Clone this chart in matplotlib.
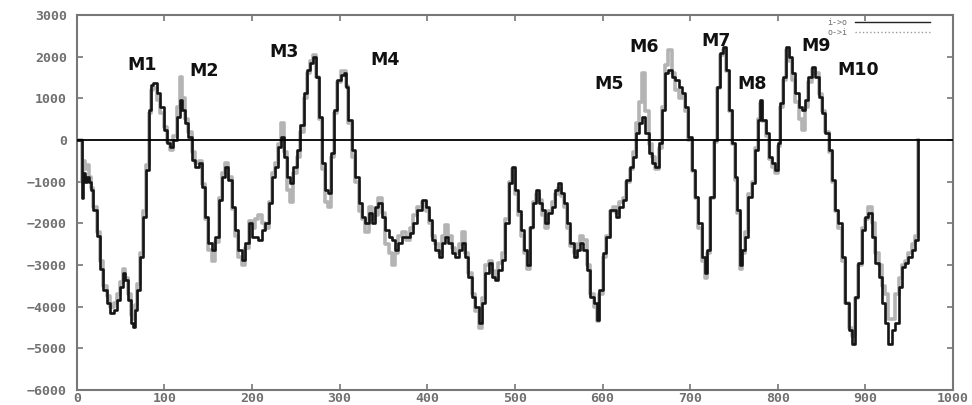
import matplotlib
matplotlib.use("Agg")
import matplotlib.pyplot as plt
from matplotlib.lines import Line2D

# residue positions and the two profile scores
pos = [0, 6, 6, 8, 11, 13, 15, 17, 21, 25,
       28, 32, 36, 40, 44, 47, 51, 54, 57, 61,
       63, 65, 67, 70, 74, 78, 81, 84, 86, 89,
       93, 97, 101, 105, 108, 112, 116, 119, 122, 125,
       129, 133, 137, 141, 144, 148, 152, 156, 160, 164,
       167, 171, 175, 179, 183, 186, 190, 194, 198, 202,
       205, 209, 213, 217, 221, 224, 228, 232, 235, 238,
       242, 245, 249, 253, 257, 261, 264, 268, 271, 274,
       278, 282, 285, 289, 292, 295, 299, 303, 306, 308,
       312, 316, 320, 323, 327, 331, 335, 339, 342, 346,
       350, 354, 358, 361, 365, 369, 373, 379, 382, 386,
       391, 396, 400, 403, 407, 411, 415, 419, 422, 426,
       430, 434, 438, 441, 445, 449, 453, 457, 460, 464,
       468, 472, 476, 479, 483, 487, 491, 495, 498, 502,
       506, 509, 512, 516, 519, 523, 526, 529, 533, 536,
       540, 544, 548, 551, 554, 557, 561, 565, 569, 573,
       576, 580, 584, 588, 592, 595, 598, 602, 606, 610,
       614, 617, 621, 625, 629, 633, 636, 640, 643, 647,
       651, 654, 658, 662, 666, 670, 673, 677, 681, 685,
       689, 692, 696, 700, 704, 708, 711, 715, 718, 721,
       725, 729, 732, 736, 739, 742, 746, 749, 753, 755,
       758, 761, 765, 768, 772, 776, 779, 781, 784, 788,
       791, 795, 799, 801, 805, 808, 811, 814, 818, 822,
       826, 829, 833, 837, 841, 845, 848, 852, 856, 860,
       864, 867, 871, 875, 879, 883, 886, 890, 894, 898,
       902, 905, 909, 913, 917, 921, 924, 928, 932, 936,
       940, 943, 947, 951, 955, 959, 960]

i_to_o = [0, 0, -1400, -800, -1000, -880, -1000, -1200, -1680, -2300,
          -3100, -3600, -3900, -4150, -4080, -3840, -3520, -3200, -3360, -3840,
          -4400, -4480, -4080, -3600, -2800, -1840, -720, 720, 1320, 1360,
          1120, 800, 240, -80, -160, 0, 560, 960, 720, 400,
          80, -480, -640, -560, -1120, -1840, -2480, -2640, -2320, -1440,
          -880, -640, -960, -1600, -2160, -2640, -2880, -2480, -2000, -2320,
          -2320, -2400, -2160, -2000, -1520, -880, -640, -160, 80, -400,
          -880, -1040, -640, -240, 360, 1120, 1680, 1840, 2000, 1520,
          560, -560, -1200, -1280, -320, 720, 1440, 1560, 1600, 1280,
          480, -240, -880, -1520, -1840, -2000, -1760, -2000, -1600, -1520,
          -1840, -2160, -2320, -2400, -2640, -2480, -2320, -2320, -2240, -2000,
          -1680, -1440, -1600, -1920, -2400, -2640, -2800, -2480, -2320, -2480,
          -2720, -2800, -2640, -2480, -2800, -3280, -3760, -4000, -4400, -3920,
          -3200, -2960, -3280, -3360, -3120, -2880, -2000, -1040, -640, -1200,
          -1700, -2160, -2640, -3000, -2080, -1520, -1200, -1520, -1680, -2000,
          -1760, -1600, -1200, -1040, -1280, -1520, -2000, -2480, -2800, -2640,
          -2480, -2640, -3120, -3760, -3920, -4320, -3600, -2720, -2320, -1680,
          -1680, -1840, -1600, -1440, -960, -640, -400, 160, 400, 560,
          160, -320, -560, -640, -80, 720, 1600, 1680, 1520, 1440,
          1280, 1120, 800, 80, -720, -1360, -2000, -2800, -3200, -2640,
          -1360, 0, 1280, 2080, 2240, 1680, 720, -80, -880, -1680,
          -3000, -2640, -2320, -1360, -1040, -240, 480, 960, 480, 160,
          -400, -560, -720, -80, 880, 1520, 2240, 2000, 1600, 1120,
          800, 720, 960, 1520, 1760, 1520, 1040, 640, 160, -240,
          -960, -1680, -2000, -2800, -3920, -4560, -4900, -3760, -2960, -2160,
          -1840, -1760, -2320, -2960, -3280, -3920, -4400, -4900, -4560, -4400,
          -3520, -3040, -2960, -2800, -2640, -2400, 0]

o_to_i = [0, 0, -1000, -500, -700, -600, -900, -1150, -1600, -2200,
          -2900, -3500, -3750, -4000, -3900, -3700, -3400, -3100, -3300, -3700,
          -4200, -4300, -3950, -3450, -2700, -1700, -600, 650, 1200, 1250,
          950, 650, 300, -60, -240, 100, 800, 1520, 1000, 500,
          200, -300, -560, -500, -1050, -1900, -2650, -2900, -2450, -1400,
          -800, -560, -900, -1650, -2300, -2800, -3000, -2600, -1950, -2100,
          -1900, -1800, -2000, -2100, -1500, -800, -560, -100, 400, -300,
          -1200, -1500, -800, -400, 200, 1000, 1600, 1900, 2050, 1500,
          500, -700, -1500, -1600, -400, 650, 1400, 1650, 1650, 1300,
          400, -400, -1000, -1700, -1900, -2200, -1600, -1900, -1800, -1400,
          -1750, -2500, -2700, -3000, -2700, -2300, -2200, -2400, -2100, -1800,
          -1600, -1500, -1700, -2000, -2300, -2500, -2700, -2300, -2050, -2300,
          -2600, -2700, -2500, -2200, -2700, -3200, -3700, -4100, -4500, -3800,
          -3000, -2900, -3150, -3300, -2950, -2700, -1900, -1000, -700, -1300,
          -1800, -2300, -2700, -3100, -2100, -1500, -1300, -1450, -1800, -2100,
          -1700, -1500, -1300, -1150, -1350, -1600, -2100, -2550, -2700, -2500,
          -2300, -2400, -3000, -3700, -4000, -4350, -3700, -2800, -2300, -1700,
          -1600, -1750, -1500, -1400, -1000, -700, -300, 400, 900, 1600,
          700, -100, -400, -700, -200, 800, 1800, 2150, 1600, 1200,
          1000, 1050, 700, 0, -750, -1400, -2100, -2900, -3300, -2700,
          -1400, -50, 1250, 2050, 2150, 1650, 700, -100, -950, -1750,
          -3100, -2700, -2200, -1300, -1000, -200, 500, 880, 450, 100,
          -450, -650, -800, -150, 800, 1450, 2150, 1900, 1450, 900,
          500, 240, 800, 1400, 1700, 1600, 1100, 700, 200, -300,
          -1000, -1700, -2100, -2900, -3900, -4500, -4700, -3800, -3000, -2100,
          -1900, -1600, -2000, -2700, -3000, -3500, -3700, -4300, -4300, -3700,
          -3300, -3000, -2900, -2700, -2500, -2300, 0]

assert len(pos) == len(i_to_o) == len(o_to_i)

# helix labels and where they sit (data coords)
helix_names = ["M1", "M2", "M3", "M4", "M5", "M6", "M7", "M8", "M9", "M10"]
helix_x = [74, 145, 237, 352, 607, 648, 730, 771, 844, 892]
helix_y = [1800, 1650, 2100, 1920, 1340, 2240, 2380, 1350, 2250, 1680]

fig = plt.figure(figsize=(9.72, 4.05), dpi=100)
ax = fig.add_axes([0.079, 0.037, 0.9015, 0.926])

frame_col = "#777777"
tick_col = "#707070"

ax.plot(pos, o_to_i, color="#b4b4b4", lw=2.6, drawstyle="steps-mid", zorder=2)
ax.plot(pos, i_to_o, color="#151515", lw=1.9, drawstyle="steps-mid", zorder=3)
ax.axhline(0, color="black", lw=1.3, zorder=4)

for name, hx, hy in zip(helix_names, helix_x, helix_y):
    ax.text(hx, hy, name, ha="center", va="center", fontsize=12.5,
            fontweight="bold", family="DejaVu Sans", color="#111111", zorder=5)

ax.set_xlim(0, 1000)
ax.set_ylim(-6000, 3000)
ax.set_xticks(range(0, 1001, 100))
ax.set_yticks(range(-6000, 3001, 1000))

for sp in ax.spines.values():
    sp.set_color(frame_col)
    sp.set_linewidth(1.5)

ax.tick_params(direction="in", length=4, width=1.2, color=frame_col,
               top=True, right=True, labelcolor=tick_col)
ax.tick_params(axis="x", pad=1.5)
ax.tick_params(axis="y", pad=7)
for lab in ax.get_xticklabels() + ax.get_yticklabels():
    lab.set_family("DejaVu Sans Mono")
    lab.set_fontweight("bold")
    lab.set_fontsize(9.5)

handles = [Line2D([], [], color="#222222", lw=1.0),
           Line2D([], [], color="#999999", lw=1.0, ls=":")]
leg = ax.legend(handles, ["i->o", "o->i"], loc="upper right",
                bbox_to_anchor=(0.978, 1.0), frameon=False, markerfirst=False,
                prop={"family": "DejaVu Sans Mono", "size": 6},
                handlelength=9, labelspacing=0.1, borderaxespad=0.2,
                borderpad=0.2, handletextpad=1.0)
for t in leg.get_texts():
    t.set_color(tick_col)

fig.savefig("out.png", dpi=100)
